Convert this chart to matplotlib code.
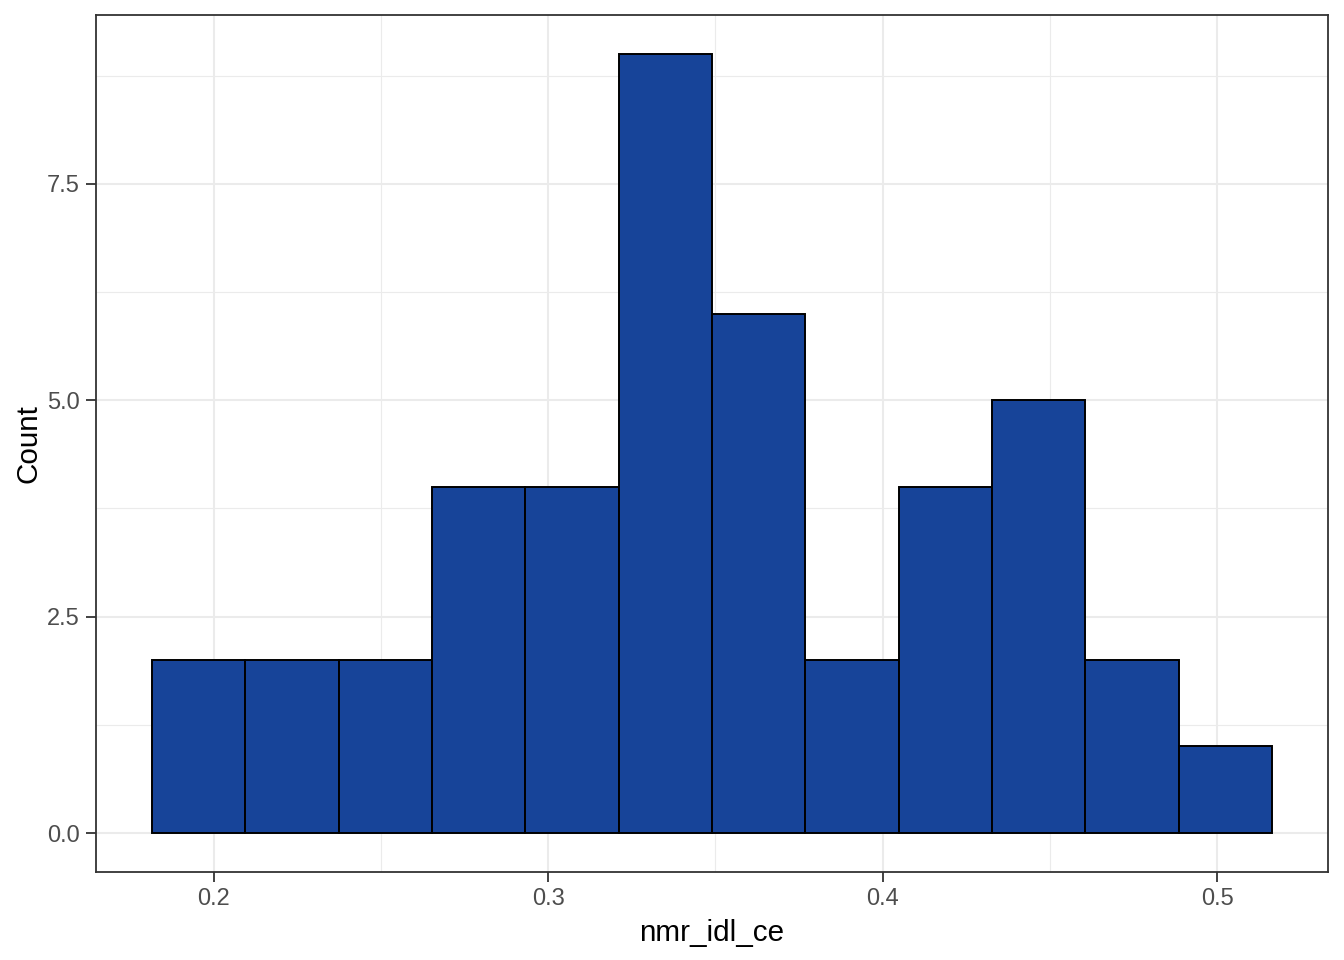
import matplotlib
matplotlib.use('Agg')
import matplotlib.pyplot as plt
import numpy as np

# histogram data
bin_edges = [0.18149, 0.20940, 0.23731, 0.26522, 0.29313, 0.32104, 0.34895,
             0.37686, 0.40477, 0.43268, 0.46059, 0.48850, 0.51642]
counts = [2, 2, 2, 4, 4, 9, 6, 2, 4, 5, 2, 1]
x_ticks = [0.2, 0.3, 0.4, 0.5]
x_minor = [0.25, 0.35, 0.45]
y_ticks = [0.0, 2.5, 5.0, 7.5]
y_minor = [1.25, 3.75, 6.25, 8.75]

plt.rcParams['font.family'] = ['Liberation Sans', 'DejaVu Sans']

fig = plt.figure(figsize=(13.44, 9.6), dpi=100)
ax = fig.add_axes([96 / 1344, 1 - 872 / 960, (1328 - 96) / 1344, (872 - 15) / 960])

edges = np.array(bin_edges)
ax.bar(edges[:-1], counts, width=np.diff(edges), align='edge',
       color='#174499', edgecolor='black', linewidth=1.4, zorder=3)

xr = edges[-1] - edges[0]
ax.set_xlim(edges[0] - 0.05 * xr, edges[-1] + 0.05 * xr)
ax.set_ylim(-0.05 * max(counts), max(counts) * 1.05)

ax.set_xticks(x_ticks)
ax.set_xticklabels(['%.1f' % v for v in x_ticks])
ax.set_xticks(x_minor, minor=True)
ax.set_yticks(y_ticks)
ax.set_yticklabels(['%.1f' % v for v in y_ticks])
ax.set_yticks(y_minor, minor=True)

ax.grid(which='major', color='#EBEBEB', linewidth=1.5, zorder=0)
ax.grid(which='minor', color='#EBEBEB', linewidth=0.8, zorder=0)
ax.set_axisbelow(True)

ax.tick_params(which='major', length=7.5, width=1.3, color='#333333',
               labelsize=17, labelcolor='#4D4D4D', pad=4)
ax.tick_params(which='minor', length=0)
for s in ax.spines.values():
    s.set_color('#333333')
    s.set_linewidth(1.3)

ax.set_xlabel('nmr_idl_ce', fontsize=21.3, labelpad=6.5)
ax.set_ylabel('Count', fontsize=21.3, labelpad=3)

fig.savefig('out.png', dpi=100, facecolor='white')
